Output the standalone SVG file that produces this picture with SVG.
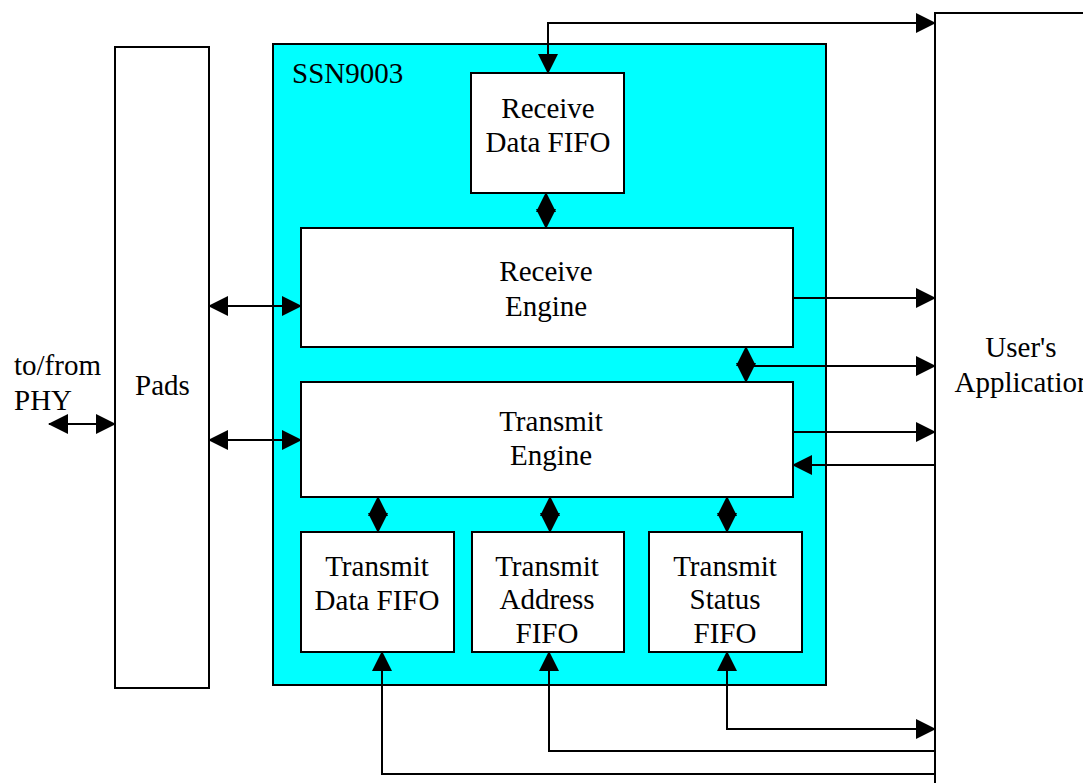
<svg xmlns="http://www.w3.org/2000/svg" width="1083" height="783" viewBox="0 0 1083 783">
<defs>
<marker id="ah" markerUnits="userSpaceOnUse" markerWidth="20" markerHeight="20" refX="19" refY="10" orient="auto-start-reverse">
<path d="M0,0 L20,10 L0,20 z" fill="#000"/>
</marker>
<style>
.box{fill:#fff;stroke:#000;stroke-width:2}
.cy{fill:#00ffff;stroke:#000;stroke-width:2}
.t{font-family:"Liberation Serif","Times New Roman",serif;font-size:29px;fill:#000}
.m{text-anchor:middle}
.c{fill:none;stroke:#000;stroke-width:2}
.b{marker-start:url(#ah);marker-end:url(#ah)}
.e{marker-end:url(#ah)}
.s{marker-start:url(#ah)}
</style>
</defs>
<rect width="1083" height="783" fill="#fff"/>
<g id="pads">
<rect class="box" x="115" y="47" width="94" height="641"/>
<text class="t" x="135" y="395">Pads</text>
</g>
<g id="phy">
<text class="t" x="14" y="375">to/from</text>
<text class="t" x="14" y="410">PHY</text>
</g>
<g id="app">
<rect class="box" x="935" y="13" width="200" height="800"/>
<text class="t m" x="1021" y="357">User's</text>
<text class="t m" x="1023" y="392">Application</text>
</g>
<g id="ssn9003">
<rect class="cy" x="273" y="44" width="553" height="641"/>
<text class="t" x="292" y="83">SSN9003</text>
</g>
<g id="rxfifo">
<rect class="box" x="471" y="73" width="153" height="120"/>
<text class="t m" x="548" y="118">Receive</text>
<text class="t m" x="548" y="152">Data FIFO</text>
</g>
<g id="rxengine">
<rect class="box" x="301" y="228" width="492" height="119"/>
<text class="t m" x="546" y="281">Receive</text>
<text class="t m" x="546" y="316">Engine</text>
</g>
<g id="txengine">
<rect class="box" x="301" y="382" width="492" height="115"/>
<text class="t m" x="551" y="431">Transmit</text>
<text class="t m" x="551" y="465">Engine</text>
</g>
<g id="txdata">
<rect class="box" x="301" y="532" width="153" height="120"/>
<text class="t m" x="377" y="576">Transmit</text>
<text class="t m" x="377" y="610">Data FIFO</text>
</g>
<g id="txaddr">
<rect class="box" x="472" y="532" width="152" height="120"/>
<text class="t m" x="547" y="576">Transmit</text>
<text class="t m" x="547" y="609">Address</text>
<text class="t m" x="547" y="643">FIFO</text>
</g>
<g id="txstatus">
<rect class="box" x="649" y="532" width="153" height="120"/>
<text class="t m" x="725" y="576">Transmit</text>
<text class="t m" x="725" y="609">Status</text>
<text class="t m" x="725" y="643">FIFO</text>
</g>
<g id="connectors">
<path class="c b" d="M548,73 V23 H935"/>
<path class="c b" d="M546,193 V228"/>
<path class="c e" d="M793,298 H935"/>
<path class="c b" d="M746,347 V382"/>
<path class="c e" d="M746,366 H935"/>
<path class="c e" d="M793,432 H935"/>
<path class="c e" d="M935,465 H793"/>
<path class="c b" d="M209,306 H301"/>
<path class="c b" d="M209,440 H301"/>
<path class="c b" d="M49,424 H115"/>
<path class="c b" d="M378,497 V532"/>
<path class="c b" d="M550,497 V532"/>
<path class="c b" d="M727,497 V532"/>
<path class="c b" d="M727,652 V729 H935"/>
<path class="c s" d="M549,652 V751 H935"/>
<path class="c s" d="M382,652 V774 H935"/>
</g>
</svg>
